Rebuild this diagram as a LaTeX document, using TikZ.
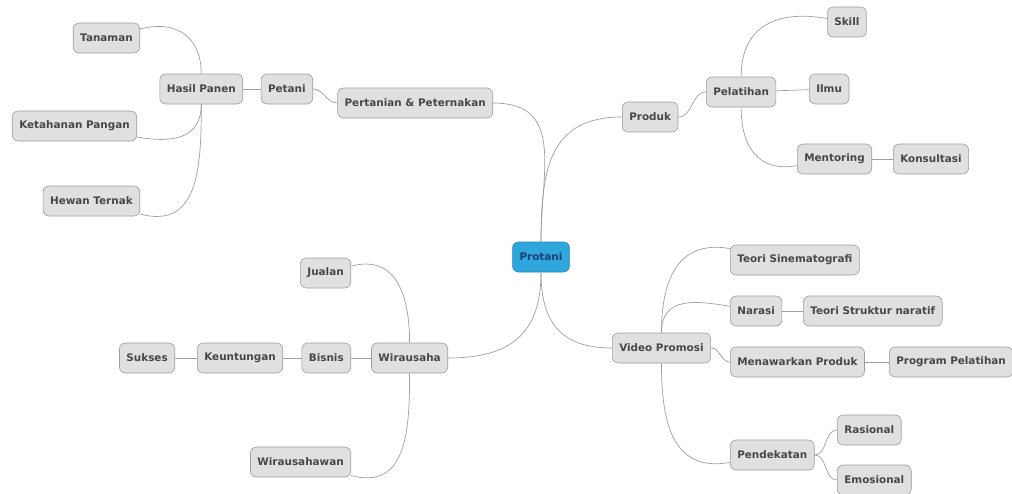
\documentclass[tikz,border=0pt]{standalone}
\usepackage{fontspec}
\setmainfont{DejaVu Sans}
\usetikzlibrary{positioning}
\definecolor{boxfill}{HTML}{E0E0E0}
\definecolor{boxline}{HTML}{9C9C9C}
\definecolor{rootfill}{HTML}{2FA6DC}
\definecolor{rootline}{HTML}{1B86BE}
\definecolor{roottext}{HTML}{1A3F7A}

\begin{document}
\begin{tikzpicture}
[
	x=1pt, y=-1pt,
	topic/.style = {draw=boxline, fill=boxfill, rounded corners=6pt, line width=0.6pt,
		minimum height=30pt, inner xsep=7pt, text=black!72,
		font=\bfseries\fontsize{10.4}{12}\selectfont},
	root/.style = {topic, fill=rootfill, draw=rootline, text=roottext},
	link/.style = {draw=gray!75, line width=0.7pt},
	branch/.style = {link, looseness=1.25},
]
\useasboundingbox (0,0) rectangle (1012,493);

\node[root] (protani) at (541,257) {Protani};

% pertanian & peternakan
\node[topic, anchor=east] (pertanian) at (493,103) {Pertanian \& Peternakan};
\node[topic, anchor=east] (petani) at (313,89) {Petani};
\node[topic, anchor=east] (hasil) at (243,89) {Hasil Panen};
\node[topic, anchor=east] (tanaman) at (140,38) {Tanaman};
\node[topic, anchor=east] (ketahanan) at (137,126) {Ketahanan Pangan};
\node[topic, anchor=east] (hewan) at (140,201) {Hewan Ternak};

% produk
\node[topic, anchor=west] (produk) at (622,117) {Produk};
\node[topic, anchor=west] (pelatihan) at (706,92) {Pelatihan};
\node[topic, anchor=west] (skill) at (827,22) {Skill};
\node[topic, anchor=west] (ilmu) at (809,89) {Ilmu};
\node[topic, anchor=west] (mentoring) at (797,159) {Mentoring};
\node[topic, anchor=west] (konsultasi) at (893,159) {Konsultasi};

% wirausaha
\node[topic, anchor=east] (wirausaha) at (448,358) {Wirausaha};
\node[topic, anchor=east] (jualan) at (351,273) {Jualan};
\node[topic, anchor=east] (bisnis) at (351,358) {Bisnis};
\node[topic, anchor=east] (keuntungan) at (283,358) {Keuntungan};
\node[topic, anchor=east] (sukses) at (175,358) {Sukses};
\node[topic, anchor=east] (wirausahawan) at (351,462) {Wirausahawan};

% video promosi
\node[topic, anchor=west] (video) at (612,348) {Video Promosi};
\node[topic, anchor=west] (sinema) at (730,260) {Teori Sinematografi};
\node[topic, anchor=west] (narasi) at (730,311) {Narasi};
\node[topic, anchor=west] (struktur) at (803,311) {Teori Struktur naratif};
\node[topic, anchor=west] (menawarkan) at (730,362) {Menawarkan Produk};
\node[topic, anchor=west] (program) at (889,362) {Program Pelatihan};
\node[topic, anchor=west] (pendekatan) at (730,455) {Pendekatan};
\node[topic, anchor=west] (rasional) at (837,430) {Rasional};
\node[topic, anchor=west] (emosional) at (837,480) {Emosional};

\draw[branch] (pertanian) to[out=0,in=90] (protani);
\draw[branch] (protani) to[out=90,in=180] (produk);
\draw[branch] (protani) to[out=-90,in=0] (wirausaha);
\draw[branch] (protani) to[out=-90,in=180] (video);

\draw[link] (petani) to[out=0,in=180] (pertanian);
\draw[link] (hasil) -- (petani);
\draw[branch] (hasil) to[out=90,in=15] (tanaman);
\draw[branch] (hasil) to[out=-90,in=-10] (ketahanan);
\draw[branch] (hasil) to[out=-90,in=-15] (hewan);

\draw[link] (produk) to[out=0,in=180] (pelatihan);
\draw[branch] (pelatihan) to[out=90,in=170] (skill);
\draw[link] (pelatihan) -- (ilmu);
\draw[branch] (pelatihan) to[out=-90,in=190] (mentoring);
\draw[link] (mentoring) -- (konsultasi);

\draw[branch] (wirausaha) to[out=90,in=15] (jualan);
\draw[link] (wirausaha) -- (bisnis);
\draw[link] (bisnis) -- (keuntungan);
\draw[link] (keuntungan) -- (sukses);
\draw[branch] (wirausaha) to[out=-90,in=-15] (wirausahawan);

\draw[branch] (video) to[out=90,in=170] (sinema);
\draw[branch] (video) to[out=90,in=170] (narasi);
\draw[link] (narasi) -- (struktur);
\draw[link] (video) to[out=0,in=180] (menawarkan);
\draw[link] (menawarkan) -- (program);
\draw[branch] (video) to[out=-90,in=190] (pendekatan);
\draw[link] (pendekatan) to[out=0,in=180] (rasional);
\draw[link] (pendekatan) to[out=0,in=180] (emosional);
\end{tikzpicture}
\end{document}
